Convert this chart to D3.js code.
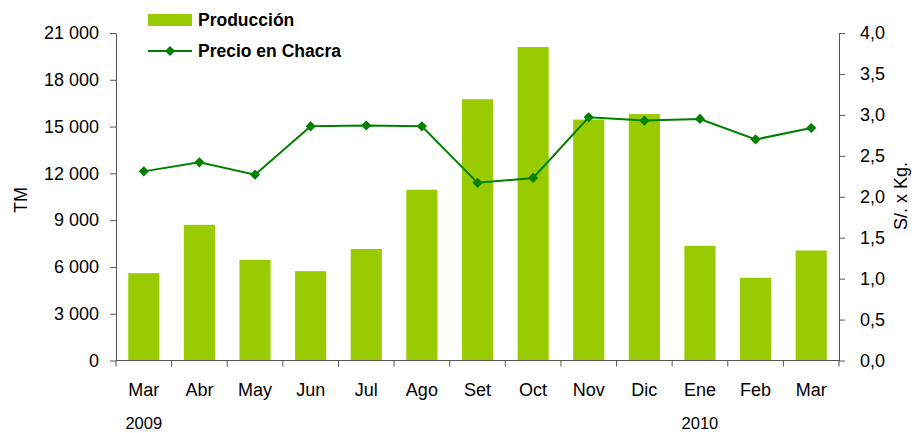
<!DOCTYPE html>
<html lang="es">
<head>
    <meta charset="UTF-8">
    <title>Producción y Precio en Chacra</title>
    <script src="https://d3js.org/d3.v7.min.js"></script>
    <style>
        body {margin: 0; background: white}
        text {font-family: 'Liberation Sans', Arial, sans-serif; fill: #000}
        .axis text {font-size: 18px}
        .axis path, .axis line {stroke: #555}
        .legend text {font-size: 17.5px; font-weight: bold}
    </style>
</head>
<body>
<script>
    const width  = 914;
    const height = 433;

    // data
    const months     = ["Mar","Abr","May","Jun","Jul","Ago","Set","Oct","Nov","Dic","Ene","Feb","Mar"];
    const produccion = [5600, 8700, 6450, 5730, 7150, 10950, 16750, 20100, 15450, 15800, 7350, 5300, 7050];
    const precio     = [2.31, 2.42, 2.27, 2.86, 2.87, 2.86, 2.17, 2.23, 2.97, 2.93, 2.95, 2.70, 2.84];
    const years      = [{label: "2009", at: 0}, {label: "2010", at: 10}];
    const leftTicks  = d3.range(0, 21001, 3000);
    const rightTicks = d3.range(0, 4.01, 0.5);

    const plotLeft = 116, plotRight = 839, plotTop = 33, plotBottom = 360.5;

    const svg = d3.select("body")
            .append("svg")
            .attr("width", width)
            .attr("height", height);

    const x = d3.scaleBand()
            .domain(d3.range(months.length))
            .range([plotLeft, plotRight])
            .paddingInner(0.44)
            .paddingOuter(0.22);

    const yL = d3.scaleLinear().domain([0, 21000]).range([plotBottom, plotTop]);
    const yR = d3.scaleLinear().domain([0, 4]).range([plotBottom, plotTop]);

    const fmtL = d => d3.format(",")(d).replace(",", " ");
    const fmtR = d => d3.format(".1f")(d).replace(".", ",");

    // bars
    svg.selectAll("rect.bar")
        .data(produccion).join("rect").attr("class", "bar")
        .attr("x", (d, i) => x(i))
        .attr("width", x.bandwidth())
        .attr("y", d => yL(d))
        .attr("height", d => plotBottom - yL(d))
        .attr("fill", "#99cc00");

    // left axis
    svg.append("g").attr("class", "axis")
        .attr("transform", `translate(${plotLeft},0)`)
        .call(d3.axisLeft(yL).tickValues(leftTicks).tickFormat(fmtL).tickSize(6).tickPadding(11).tickSizeOuter(0));

    // right axis
    svg.append("g").attr("class", "axis")
        .attr("transform", `translate(${plotRight},0)`)
        .call(d3.axisRight(yR).tickValues(rightTicks).tickFormat(fmtR).tickSize(6).tickPadding(15).tickSizeOuter(0));

    // x axis with ticks between categories
    const xAxis = svg.append("g").attr("class", "axis")
        .attr("transform", `translate(0,${plotBottom})`);
    xAxis.append("line")
        .attr("x1", plotLeft).attr("x2", plotRight)
        .attr("stroke", "#333");
    const step = x.step();
    xAxis.selectAll("line.tk")
        .data(d3.range(months.length + 1)).join("line").attr("class", "tk")
        .attr("x1", i => plotLeft + i * step).attr("x2", i => plotLeft + i * step)
        .attr("y1", 0).attr("y2", 6)
        .attr("stroke", "#333");
    xAxis.selectAll("text.m")
        .data(months).join("text").attr("class", "m")
        .attr("x", (d, i) => x(i) + x.bandwidth() / 2)
        .attr("y", 35)
        .attr("text-anchor", "middle")
        .text(d => d);
    xAxis.selectAll("text.yr")
        .data(years).join("text").attr("class", "yr")
        .attr("x", d => x(d.at) + x.bandwidth() / 2)
        .attr("y", 68.5)
        .attr("text-anchor", "middle")
        .style("font-size", "16.5px")
        .text(d => d.label);

    // price line
    const line = d3.line()
        .x((d, i) => x(i) + x.bandwidth() / 2)
        .y(d => yR(d));
    svg.append("path")
        .datum(precio)
        .attr("d", line)
        .attr("fill", "none")
        .attr("stroke", "#008000")
        .attr("stroke-width", 2);

    const diamond = d3.symbol().type(d3.symbolSquare).size(52);
    svg.selectAll("path.pt")
        .data(precio).join("path").attr("class", "pt")
        .attr("d", diamond)
        .attr("transform", (d, i) => `translate(${x(i) + x.bandwidth() / 2},${yR(d)}) rotate(45)`)
        .attr("fill", "#008000");

    // axis titles
    svg.append("text")
        .attr("transform", "translate(27,200) rotate(-90)")
        .attr("text-anchor", "middle")
        .style("font-size", "18px")
        .text("TM");
    svg.append("text")
        .attr("transform", "translate(907,196) rotate(-90)")
        .attr("text-anchor", "middle")
        .style("font-size", "18px")
        .text("S/. x Kg.");

    // legend
    const lg = svg.append("g").attr("class", "legend");
    lg.append("rect")
        .attr("x", 148).attr("y", 14).attr("width", 44).attr("height", 12)
        .attr("fill", "#99cc00");
    lg.append("text").attr("x", 198).attr("y", 26).text("Producción");
    lg.append("line")
        .attr("x1", 148).attr("x2", 192).attr("y1", 51).attr("y2", 51)
        .attr("stroke", "#008000").attr("stroke-width", 2);
    lg.append("path")
        .attr("d", diamond)
        .attr("transform", "translate(170,51) rotate(45)")
        .attr("fill", "#008000");
    lg.append("text").attr("x", 198).attr("y", 57).text("Precio en Chacra");
</script>
</body>
</html>
